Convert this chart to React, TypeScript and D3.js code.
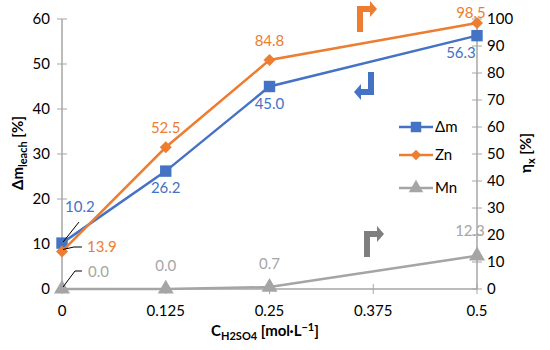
import React, { useEffect, useRef } from "react";
import * as d3 from "d3";

const conc = [0, 0.125, 0.25, 0.5];
const xTicks = [0, 0.125, 0.25, 0.375, 0.5];
const deltaM = [10.2, 26.2, 45.0, 56.3];
const zn = [13.9, 52.5, 84.8, 98.5];
const mn = [0.0, 0.0, 0.7, 12.3];
const leftTicks = [0, 10, 20, 30, 40, 50, 60];
const rightTicks = [0, 10, 20, 30, 40, 50, 60, 70, 80, 90, 100];

const BLUE = "#4472C4";
const ORANGE = "#ED7D31";
const GRAY = "#A5A5A5";
const AXIS = "#A6A6A6";
const FONT = "Lato, 'Open Sans', sans-serif";

function App() {
  const ref = useRef<SVGSVGElement>(null);

  useEffect(() => {
    const svg = d3.select(ref.current);
    svg.selectAll("*").remove();

    const x = d3.scaleLinear().domain([0, 0.5]).range([62, 477]);
    const yL = d3.scaleLinear().domain([0, 60]).range([289, 19]);
    const yR = d3.scaleLinear().domain([0, 100]).range([289, 19]);

    // axes
    const gL = svg.append("g");
    gL.append("line").attr("x1", 62).attr("x2", 62).attr("y1", yL(0)).attr("y2", yL(60)).attr("stroke", AXIS).attr("stroke-width", 1.5);
    leftTicks.forEach((t) => {
      gL.append("line").attr("x1", 57).attr("x2", 67).attr("y1", yL(t)).attr("y2", yL(t)).attr("stroke", AXIS);
      gL.append("text").attr("x", 50).attr("y", yL(t) + 5).attr("text-anchor", "end").text(t);
    });

    const gR = svg.append("g");
    gR.append("line").attr("x1", 477).attr("x2", 477).attr("y1", yR(0)).attr("y2", yR(100)).attr("stroke", AXIS).attr("stroke-width", 1.5);
    rightTicks.forEach((t) => {
      gR.append("line").attr("x1", 472).attr("x2", 482).attr("y1", yR(t)).attr("y2", yR(t)).attr("stroke", AXIS);
      gR.append("text").attr("x", 487).attr("y", yR(t) + 5).attr("text-anchor", "start").text(t);
    });

    const gX = svg.append("g");
    gX.append("line").attr("x1", x(0)).attr("x2", x(0.5)).attr("y1", 289).attr("y2", 289).attr("stroke", AXIS).attr("stroke-width", 1.5);
    xTicks.forEach((t) => {
      gX.append("line").attr("x1", x(t)).attr("x2", x(t)).attr("y1", 284).attr("y2", 294).attr("stroke", AXIS);
      gX.append("text").attr("x", x(t)).attr("y", 316).attr("text-anchor", "middle").text(String(t));
    });

    svg.selectAll("text").attr("font-size", 15).attr("fill", "#000");

    // axis titles
    const tl = svg.append("text").attr("transform", "translate(23,153) rotate(-90)").attr("text-anchor", "middle").attr("font-weight", "bold").attr("font-size", 15);
    tl.append("tspan").text("Δm");
    tl.append("tspan").attr("font-size", 11).attr("dy", 4).text("leach");
    tl.append("tspan").attr("dy", -4).text(" [%]");

    const tr = svg.append("text").attr("transform", "translate(531,153) rotate(-90)").attr("text-anchor", "middle").attr("font-weight", "bold").attr("font-size", 15);
    tr.append("tspan").text("η");
    tr.append("tspan").attr("font-size", 11).attr("dy", 4).text("x");
    tr.append("tspan").attr("dy", -4).text(" [%]");

    const tx = svg.append("text").attr("x", 265).attr("y", 336).attr("text-anchor", "middle").attr("font-weight", "bold").attr("font-size", 15);
    tx.append("tspan").text("C");
    tx.append("tspan").attr("font-size", 11).attr("dy", 4).text("H2SO4");
    tx.append("tspan").attr("dy", -4).text(" [mol·L");
    tx.append("tspan").attr("font-size", 11).attr("dy", -5).text("−1");
    tx.append("tspan").attr("dy", 5).text("]");

    // series
    const series = [
      { vals: mn, y: yR, color: GRAY, sym: d3.symbolTriangle, size: 110, rot: 0 },
      { vals: deltaM, y: yL, color: BLUE, sym: d3.symbolSquare, size: 130, rot: 0 },
      { vals: zn, y: yR, color: ORANGE, sym: d3.symbolSquare, size: 72, rot: 45 },
    ];
    series.forEach((s) => {
      const line = d3.line<number>().x((_, i) => x(conc[i])).y((d) => s.y(d));
      svg.append("path").attr("d", line(s.vals)).attr("fill", "none").attr("stroke", s.color).attr("stroke-width", 2.5);
      s.vals.forEach((v, i) => {
        svg.append("path").attr("d", d3.symbol(s.sym, s.size)())
          .attr("transform", `translate(${x(conc[i])},${s.y(v)}) rotate(${s.rot})`).attr("fill", s.color);
      });
    });

    // data labels
    const lbl = (tx: number, ty: number, t: string, c: string, anchor = "middle") =>
      svg.append("text").attr("x", tx).attr("y", ty).attr("text-anchor", anchor).attr("font-size", 15).attr("fill", c).attr("font-family", FONT).text(t);

    const dmOff = [[0, 0], [0, 22], [0, 22], [-16, 22]];
    deltaM.forEach((v, i) => {
      if (i === 0) lbl(65, 212, v.toFixed(1), BLUE, "start");
      else lbl(x(conc[i]) + dmOff[i][0], yL(v) + dmOff[i][1], v.toFixed(1), BLUE);
    });
    zn.forEach((v, i) => {
      if (i === 0) lbl(87, 252, v.toFixed(1), ORANGE, "start");
      else lbl(x(conc[i]) + (i === 3 ? -6 : 0), yR(v) - (i === 3 ? 5 : 14), v.toFixed(1), ORANGE);
    });
    mn.forEach((v, i) => {
      if (i === 0) lbl(88, 277, v.toFixed(1), GRAY, "start");
      else lbl(x(conc[i]) + (i === 3 ? -7 : 0), yR(v) - (i === 3 ? 20 : 18), v.toFixed(1), GRAY);
    });
    // leader lines
    svg.append("path").attr("d", `M${x(0) + 1},${yL(deltaM[0]) - 1} L${79},${222}`).attr("stroke", "#000").attr("fill", "none");
    svg.append("path").attr("d", `M${x(0) + 1},${yR(zn[0]) - 2} L${74},${247} L${82},${247}`).attr("stroke", "#000").attr("fill", "none");
    svg.append("path").attr("d", `M${x(0) + 1},${yR(mn[0]) - 2} L${75},${271} L${82},${271}`).attr("stroke", "#000").attr("fill", "none");

    // direction arrows
    const arrowUp = (ax: number, ay: number, c: string) =>
      svg.append("path").attr("transform", `translate(${ax},${ay})`).attr("fill", c)
        .attr("d", "M0,26 L0,0 L13,0 L13,-5 L20,3 L13,11 L13,6 L6,6 L6,26 Z");
    arrowUp(357, 6, ORANGE);
    arrowUp(364, 231, "#7F7F7F");
    svg.append("path").attr("transform", "translate(354,72)").attr("fill", BLUE)
      .attr("d", "M20,0 L20,23 L7,23 L7,28 L0,20 L7,12 L7,17 L14,17 L14,0 Z");

    // legend
    const leg = [
      { t: "Δm", color: BLUE, sym: d3.symbolSquare, size: 110, rot: 0, y: 127 },
      { t: "Zn", color: ORANGE, sym: d3.symbolSquare, size: 55, rot: 45, y: 155 },
      { t: "Mn", color: GRAY, sym: d3.symbolTriangle, size: 90, rot: 0, y: 188 },
    ];
    leg.forEach((l) => {
      svg.append("line").attr("x1", 399).attr("x2", 433).attr("y1", l.y).attr("y2", l.y).attr("stroke", l.color).attr("stroke-width", 2.5);
      svg.append("path").attr("d", d3.symbol(l.sym, l.size)()).attr("transform", `translate(416,${l.y}) rotate(${l.rot})`).attr("fill", l.color);
      svg.append("text").attr("x", 435).attr("y", l.y + 5).attr("font-size", 15).attr("font-family", FONT).attr("fill", "#000").text(l.t);
    });
  }, []);

  return (
    <svg ref={ref} width={550} height={350} style={{ position: "absolute", left: 0, top: 0, fontFamily: FONT, background: "#fff" }} />
  );
}

export default App;
